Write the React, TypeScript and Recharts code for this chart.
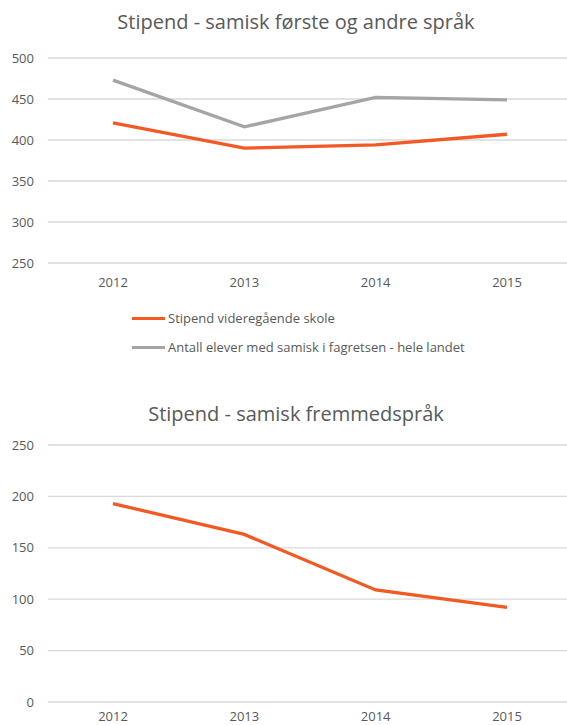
import React from "react";
import { LineChart, Line, XAxis, YAxis, CartesianGrid, Legend } from "recharts";

const years = ["2012", "2013", "2014", "2015"];
const stipendVgs = [421, 390, 394, 407];
const antallElever = [473, 416, 452, 449];
const stipendFremmed = [193, 163, 109, 92];
const topTicks = [250, 300, 350, 400, 450, 500];
const bottomTicks = [0, 50, 100, 150, 200, 250];

const title1 = "Stipend - samisk første og andre språk";
const title2 = "Stipend - samisk fremmedspråk";
const name1 = "Stipend videregående skole";
const name2 = "Antall elever med samisk i fagretsen - hele landet";
const legendOrder = [name1, name2];

const ORANGE = "#F15A24";
const GRAY = "#A5A5A5";
const TEXT = "#595959";
const GRID = "#D9D9D9";
const FONT = "'Open Sans', sans-serif";

const topData = years.map((y, i) => ({ year: y, vgs: stipendVgs[i], elever: antallElever[i] }));
const bottomData = years.map((y, i) => ({ year: y, fremmed: stipendFremmed[i] }));

const tickStyle = { fill: TEXT, fontSize: 13, fontFamily: FONT };

const renderLegend = (props: any) => {
  const payload: any[] = props.payload || [];
  const ordered = legendOrder
    .map((n) => payload.find((p: any) => p.value === n))
    .filter(Boolean);
  return (
    <div style={{ fontFamily: FONT, fontSize: 13, color: TEXT }}>
      {ordered.map((p: any, i: number) => (
        <div key={i} style={{ display: "flex", alignItems: "center", height: 29.4, lineHeight: "29.4px" }}>
          <span style={{ display: "inline-block", width: 33, height: 3, background: p.color, marginRight: 3 }} />
          <span>{p.value}</span>
        </div>
      ))}
    </div>
  );
};

const titleStyle = (top: number): React.CSSProperties => ({
  position: "absolute",
  top,
  left: 0,
  width: 592,
  textAlign: "center",
  fontFamily: FONT,
  fontSize: 20,
  lineHeight: "24px",
  color: TEXT,
  zIndex: 2,
});

export default function App() {
  return (
    <div style={{ width: 567, height: 725, overflow: "hidden", position: "relative", background: "#fff" }}>
      <style>{`body{margin:0;}`}</style>
      <div style={{ position: "relative", width: 567, height: 375 }}>
        <div style={titleStyle(10)}>{title1}</div>
        <LineChart width={567} height={375} data={topData} margin={{ top: 58, right: 0, left: 0, bottom: 82 }}>
          <CartesianGrid vertical={false} stroke={GRID} strokeWidth={1.3} />
          <XAxis
            dataKey="year"
            axisLine={false}
            tickLine={false}
            tick={tickStyle}
            tickMargin={9}
            height={30}
            padding={{ left: 65, right: 60 }}
          />
          <YAxis
            domain={[250, 500]}
            ticks={topTicks}
            axisLine={false}
            tickLine={false}
            tick={tickStyle}
            tickMargin={8}
            width={48}
          />
          <Legend
            layout="vertical"
            align="center"
            verticalAlign="middle"
            content={renderLegend}
            wrapperStyle={{ position: "absolute", top: 303.6, left: 132, width: 400 }}
          />
          <Line type="linear" dataKey="vgs" name={name1} stroke={ORANGE} strokeWidth={3.3} dot={false} isAnimationActive={false} />
          <Line type="linear" dataKey="elever" name={name2} stroke={GRAY} strokeWidth={3.3} dot={false} isAnimationActive={false} />
        </LineChart>
      </div>
      <div style={{ position: "relative", width: 567, height: 350 }}>
        <div style={titleStyle(27)}>{title2}</div>
        <LineChart width={567} height={350} data={bottomData} margin={{ top: 70, right: 0, left: 0, bottom: 0 }}>
          <CartesianGrid vertical={false} stroke={GRID} strokeWidth={1.3} />
          <XAxis
            dataKey="year"
            axisLine={false}
            tickLine={false}
            tick={tickStyle}
            tickMargin={4}
            height={23}
            padding={{ left: 65, right: 60 }}
          />
          <YAxis
            domain={[0, 250]}
            ticks={bottomTicks}
            axisLine={false}
            tickLine={false}
            tick={tickStyle}
            tickMargin={8}
            width={48}
          />
          <Line type="linear" dataKey="fremmed" name={name1} stroke={ORANGE} strokeWidth={3.3} dot={false} isAnimationActive={false} />
        </LineChart>
      </div>
    </div>
  );
}
